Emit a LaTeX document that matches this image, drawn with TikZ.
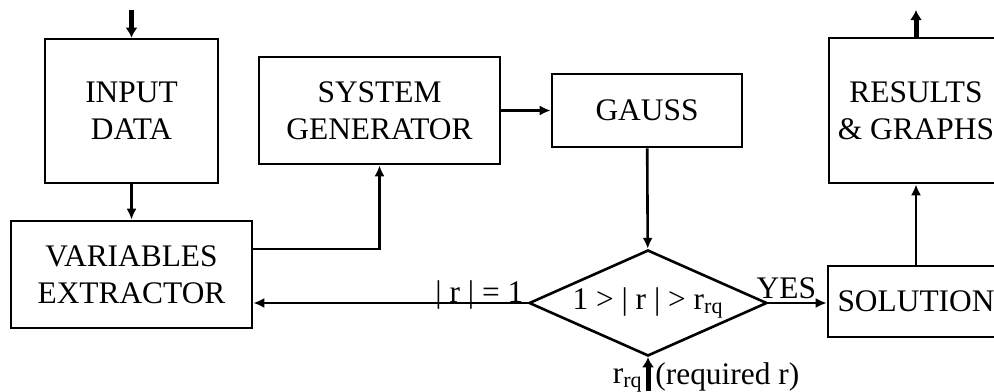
\documentclass[tikz,border=0pt]{standalone}
\usepackage{fontspec}
\setmainfont{Liberation Serif}
\usetikzlibrary{shapes.geometric,arrows.meta}

\begin{document}
\begin{tikzpicture}[x=0.5pt,y=-0.5pt,
  blk/.style={draw, line width=1.3pt, align=center, inner sep=0pt,
    font=\fontsize{15.7}{18.5}\selectfont},
  lbl/.style={inner sep=0pt, font=\fontsize{15.7}{18.5}\selectfont},
  line/.style={line width=1.3pt, -{Latex[length=5.5pt,width=5pt]}},
  bold/.style={line width=2.5pt, -{Latex[length=5pt,width=6pt]}}]
  \clip (0,0) rectangle (994,391);
  % blocks
  \node[blk, minimum width=86.5pt, minimum height=72pt] (input) at (131.5,111) {INPUT\\DATA};
  \node[blk, minimum width=120.5pt, minimum height=53.5pt] (vars) at (131.5,274.5) {VARIABLES\\EXTRACTOR};
  \node[blk, minimum width=120.5pt, minimum height=53.5pt] (sysgen) at (379.5,110.5) {SYSTEM\\GENERATOR};
  \node[blk, minimum width=95pt, minimum height=36.5pt] (gauss) at (647,110.5) {GAUSS};
  \node[blk, minimum width=87pt, minimum height=72.5pt] (results) at (916,110.5) {RESULTS\\\& GRAPHS};
  \node[blk, minimum width=88pt, minimum height=35.5pt] (sol) at (916,301.5) {SOLUTION};
  \node[blk, diamond, aspect=2.25, minimum width=119pt, minimum height=53pt] (test) at (648,303)
    {1 > | r | > r\textsubscript{rq}};
  % free ends
  \coordinate (in) at (131.5,10);
  \coordinate (out) at (916,10);
  \coordinate (req) at (648,391);
  % connectors
  \draw[bold] (in) -- (input);
  \draw[line] (input) -- (vars);
  \draw[line] (vars.east |- 0,249) -| (sysgen.south);
  \draw[line] (sysgen) -- (gauss);
  \draw[line] (gauss) -- (test);
  \draw[line] (test.west) -- (test.west -| vars.east);
  \draw[line] (test.east) -- (sol.west |- test.east);
  \draw[line] (sol) -- (results);
  \draw[bold] (results) -- (out);
  \draw[bold] (req) -- (test.south);
  % labels
  \node[lbl, anchor=base east] (eq) at ([shift={(-4,-1)}]test.west) {| r | = 1};
  \node[lbl, anchor=base west] (yes) at ([shift={(-12,-5)}]test.east) {YES};
  \node[lbl, anchor=base east] (rrq) at ([shift={(-5,-8)}]req) {r\textsubscript{rq}};
  \node[lbl, anchor=base west] (reqr) at ([shift={(7,-7)}]req) {(required r)};
\end{tikzpicture}
\end{document}
